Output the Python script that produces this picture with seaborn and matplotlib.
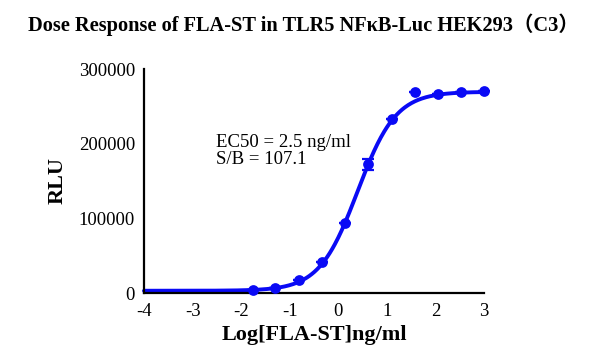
import matplotlib
matplotlib.use("Agg")
import matplotlib.pyplot as plt
import numpy as np
import pandas as pd
import seaborn as sns

# measured points (log10 concentration, mean RLU, SEM)
log_conc = [-1.76, -1.30, -0.815, -0.335, 0.145, 0.61, 1.106, 1.57, 2.05, 2.53, 3.01]
rlu_mean = [3400, 6400, 16800, 40900, 93700, 172500, 232500, 269500, 266000, 269500, 270500]
rlu_sem = [0, 0, 0, 0, 0, 7400, 0, 0, 0, 0, 0]

# four-parameter logistic fit shown on the chart
fit_bottom = 3000
fit_top = 269500
fit_log_ec50 = np.log10(2.5)
fit_hill = 1.1

x_ticks = [-4, -3, -2, -1, 0, 1, 2, 3]
y_ticks = [0, 100000, 200000, 300000]

BLUE = "#0A0AF5"

sns.set_theme(style="white")
plt.rcParams.update(
    {
        "font.family": ["Liberation Serif", "Noto Sans CJK SC"],
        "text.color": "black",
        "axes.labelcolor": "black",
        "axes.unicode_minus": False,
        "axes.linewidth": 1.6,
        "xtick.major.width": 1.6,
        "ytick.major.width": 1.6,
        "xtick.major.size": 6,
        "ytick.major.size": 5,
        "xtick.direction": "out",
        "ytick.direction": "out",
    }
)

fig = plt.figure(figsize=(6.07, 3.57), dpi=100)
ax = fig.add_axes([144 / 607, (357 - 293) / 357, 340 / 607, 224 / 357])

curve_x = np.linspace(-4, 3, 400)
curve_y = fit_bottom + (fit_top - fit_bottom) / (1 + 10 ** ((fit_log_ec50 - curve_x) * fit_hill))
sns.lineplot(x=curve_x, y=curve_y, color=BLUE, linewidth=2.8, ax=ax, clip_on=False)

df = pd.DataFrame({"logc": log_conc, "rlu": rlu_mean, "sem": rlu_sem})
ax.errorbar(df["logc"], df["rlu"], yerr=df["sem"], fmt="none", ecolor=BLUE,
            elinewidth=1.6, capsize=4, capthick=1.6, clip_on=False)
sns.scatterplot(data=df, x="logc", y="rlu", color=BLUE, s=60, edgecolor=BLUE,
                linewidth=0, ax=ax, clip_on=False, zorder=5)

ax.set_xlim(-4, 3)
ax.set_ylim(0, 300000)
ax.set_xticks(x_ticks)
ax.set_xticklabels([str(t) for t in x_ticks])
ax.set_yticks(y_ticks)
ax.set_yticklabels([str(t) for t in y_ticks])
ax.tick_params(labelsize=13.5, colors="black", pad=1.5)
for side in ["top", "right"]:
    ax.spines[side].set_visible(False)
for side in ["left", "bottom"]:
    ax.spines[side].set_color("black")

ax.set_xlabel("Log[FLA-ST]ng/ml", fontsize=16, fontweight="bold", labelpad=3)
ax.set_ylabel("RLU", fontsize=16, fontweight="bold", labelpad=8)

ax.text(-2.52, 201500, "EC50 = 2.5 ng/ml", fontsize=13.5, va="center", ha="left")
ax.text(-2.52, 179000, "S/B = 107.1", fontsize=13.5, va="center", ha="left")

fig.text(0.5, 1 - 25 / 357, "Dose Response of FLA-ST in TLR5 NFκB-Luc HEK293（C3）",
         ha="center", va="center", fontsize=14.7, fontweight="bold")

fig.savefig("out.png", dpi=100)
